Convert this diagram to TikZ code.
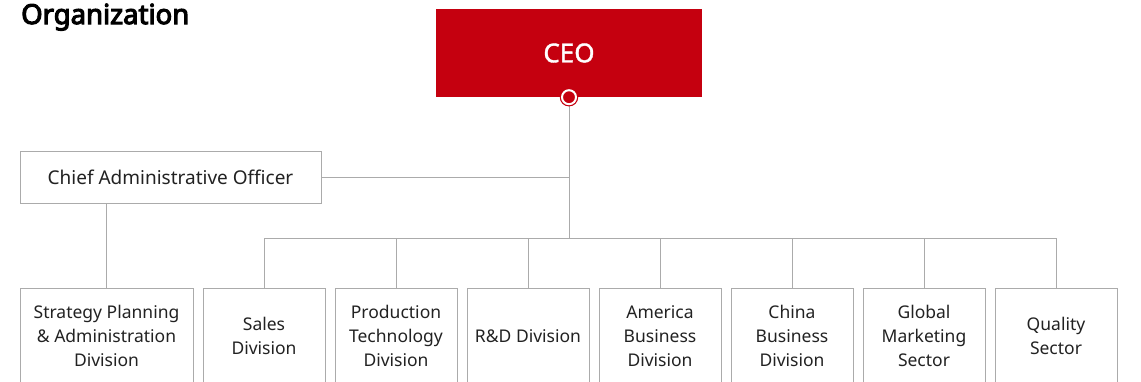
\documentclass[tikz,border=0pt]{standalone}
\usepackage{fontspec}
\setmainfont{Noto Sans}
\newfontfamily\titlefont{Noto Sans}[FakeBold=4]
\newfontfamily\ceofont{Noto Sans}[FakeBold=1.5]
\usepackage{xcolor}
\usetikzlibrary{positioning}
\definecolor{ceored}{HTML}{C5000F}
\definecolor{linegray}{HTML}{ABABAB}
\definecolor{textdark}{HTML}{222222}
\tikzset{
  unitbox/.style={draw=linegray, line width=1pt, fill=white, text=textdark,
    align=center, inner sep=0pt, font=\fontsize{17.5}{24}\selectfont},
  link/.style={draw=linegray, line width=1pt}
}

\begin{document}
\begin{tikzpicture}[x=1pt, y=-1pt]
\useasboundingbox (0,0) rectangle (1141,381);
\clip (0,0) rectangle (1141,381);

%title
\node[anchor=base west, inner sep=0pt, text=black, font=\titlefont\fontsize{27.5}{27.5}\selectfont] (title) at (21,24) {Organization};

%0
\node[fill=ceored, text=white, minimum width=266pt, minimum height=88pt, inner sep=0pt,
  font=\ceofont\fontsize{26}{26}\selectfont] (ceo) at (569,53) {CEO};

%1
\node[unitbox, minimum width=301pt, minimum height=52pt, font=\fontsize{19}{24}\selectfont] (cao) at (170.5,177) {Chief Administrative Officer};
\coordinate (bus) at (569,238);

%2
\node[unitbox, minimum width=173pt, minimum height=96pt] (spad) at (106.5,336) {Strategy Planning\\\& Administration\\Division};
\node[unitbox, minimum width=122pt, minimum height=96pt] (sales) at (264,336) {Sales\\Division};
\node[unitbox, minimum width=122pt, minimum height=96pt] (prod) at (396,336) {Production\\Technology\\Division};
\node[unitbox, minimum width=122pt, minimum height=96pt] (rnd) at (528,336) {R\&D Division};
\node[unitbox, minimum width=122pt, minimum height=96pt] (america) at (660,336) {America\\Business\\Division};
\node[unitbox, minimum width=122pt, minimum height=96pt] (china) at (792,336) {China\\Business\\Division};
\node[unitbox, minimum width=122pt, minimum height=96pt] (marketing) at (924,336) {Global\\Marketing\\Sector};
\node[unitbox, minimum width=122pt, minimum height=96pt] (quality) at (1056,336) {Quality\\Sector};

%3
\draw[link] (ceo.south) -- (bus);
\draw[link] (cao.east) -- (cao.east -| bus);
\draw[link] (spad.north |- cao.south) -- (spad.north);
\draw[link] (sales.north) -- (sales.north |- bus) -- (quality.north |- bus) -- (quality.north);
    \draw[link] (prod.north) -- (prod.north |- bus);
    \draw[link] (rnd.north) -- (rnd.north |- bus);
    \draw[link] (america.north) -- (america.north |- bus);
    \draw[link] (china.north) -- (china.north |- bus);
    \draw[link] (marketing.north) -- (marketing.north |- bus);

%4
\node[circle, fill=ceored, draw=ceored, double=white, double distance=2pt, line width=1.2pt,
  minimum size=14pt, inner sep=0pt] (dot) at (ceo.south) {};

\end{tikzpicture}
\end{document}
